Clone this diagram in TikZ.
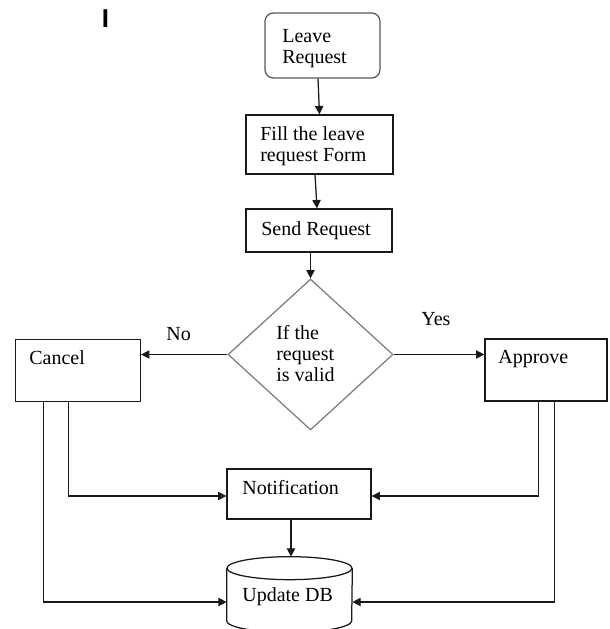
\documentclass[tikz,border=0pt]{standalone}
\usepackage{fontspec}
\setmainfont{Liberation Serif}
\newfontfamily\barfont{Liberation Sans}
\usepackage{xcolor}
\definecolor{Col1}{RGB}{25,25,25}
\definecolor{Col2}{RGB}{125,125,125}
\usetikzlibrary{shapes.geometric}
\usetikzlibrary{arrows.meta}
\tikzstyle{Box}=[draw=Col1,line width=0.75pt,inner sep=0pt]
\tikzstyle{Start}=[Box,draw=Col2!70!black,rounded corners=5pt]
\tikzstyle{Test}=[diamond,draw=Col2,line width=0.75pt,inner sep=0pt]
\tikzstyle{Store}=[inner sep=0pt]
\tikzstyle{Line}=[draw=Col1,line width=0.75pt]
\tikzstyle{Edge}=[Line,-{Triangle[length=5pt,width=5pt]}]
\tikzstyle{Txt}=[anchor=north west,inner sep=0pt,align=left,
font=\fontsize{12}{12.6}\selectfont]

\begin{document}
\begin{tikzpicture}[x=0.6pt,y=-0.6pt]
        \useasboundingbox(0,0)rectangle(609,629);
        % shapes
        \node[Start,minimum width=69pt,minimum height=39pt](leave)at(322.5,45.5){};
        \node[Box,minimum width=88.2pt,minimum height=35.4pt](fill)at(319.5,144.5){};
        \node[Box,minimum width=87.6pt,minimum height=25.8pt](send)at(319,230.5){};
        \node[Test,minimum width=99pt,minimum height=90.6pt](valid)at(310.5,354.5){};
        \node[Box,minimum width=75pt,minimum height=37.2pt](cancel)at(78,370.5){};
        \node[Box,minimum width=73.2pt,minimum height=37.2pt](approve)at(546,370){};
        \node[Box,minimum width=86.4pt,minimum height=30pt](notif)at(299,494){};
        \node[Store,minimum width=75pt,minimum height=45pt](db)at(289.5,594.5){};
        \draw[Line]([yshift=-6.9pt]db.north west)--([yshift=6.9pt]db.south west)
            arc[start angle=180,end angle=360,x radius=37.5pt,y radius=6.9pt]
            --([yshift=-6.9pt]db.north east);
        \draw[Line]([yshift=-6.9pt]db.north)ellipse[x radius=37.5pt,y radius=6.9pt];
        % texts
        \node[Txt,font=\barfont\bfseries\fontsize{15.5}{15.5}\selectfont](mark)at(101.5,9.5){I};
        \node[Txt](tleave)at(282,29){Leave\\Request};
        \node[Txt](tfill)at(260,126){Fill the leave\\request Form};
        \node[Txt](tsend)at(261,221){Send Request};
        \node[Txt](tvalid)at(276,325){If the\\request\\is valid};
        \node[Txt](tno)at(166,327){No};
        \node[Txt](tyes)at(421,312){Yes};
        \node[Txt](tcancel)at(29,350){Cancel};
        \node[Txt](tapprove)at(498,350){Approve};
        \node[Txt](tnotif)at(242,480){Notification};
        \node[Txt](tdb)at(242,587){Update DB};
        % connectors
        \draw[Edge]([xshift=-2.7pt]leave.south)--(fill.north);
        \draw[Edge]([xshift=-2.7pt]fill.south)--([xshift=-1.2pt]send.north);
        \draw[Edge](valid.north|-send.south)--(valid.north);
        \draw[Edge](valid.west)--(valid.west-|cancel.east);
        \draw[Edge](valid.east)--(valid.east-|approve.west);
        \draw[Edge]([xshift=32.1pt]cancel.south west)|-([yshift=-1.2pt]notif.west);
        \draw[Edge]([xshift=17.1pt]cancel.south west)|-([yshift=-4.5pt]db.west);
        \draw[Edge]([xshift=32.4pt]approve.south west)|-([yshift=-1.2pt]notif.east);
        \draw[Edge]([xshift=42pt]approve.south west)|-([yshift=-4.5pt]db.east);
        \draw[Edge]([xshift=0.9pt]db.north|-notif.south)--([xshift=0.9pt]db.north);
    \end{tikzpicture}
\end{document}
